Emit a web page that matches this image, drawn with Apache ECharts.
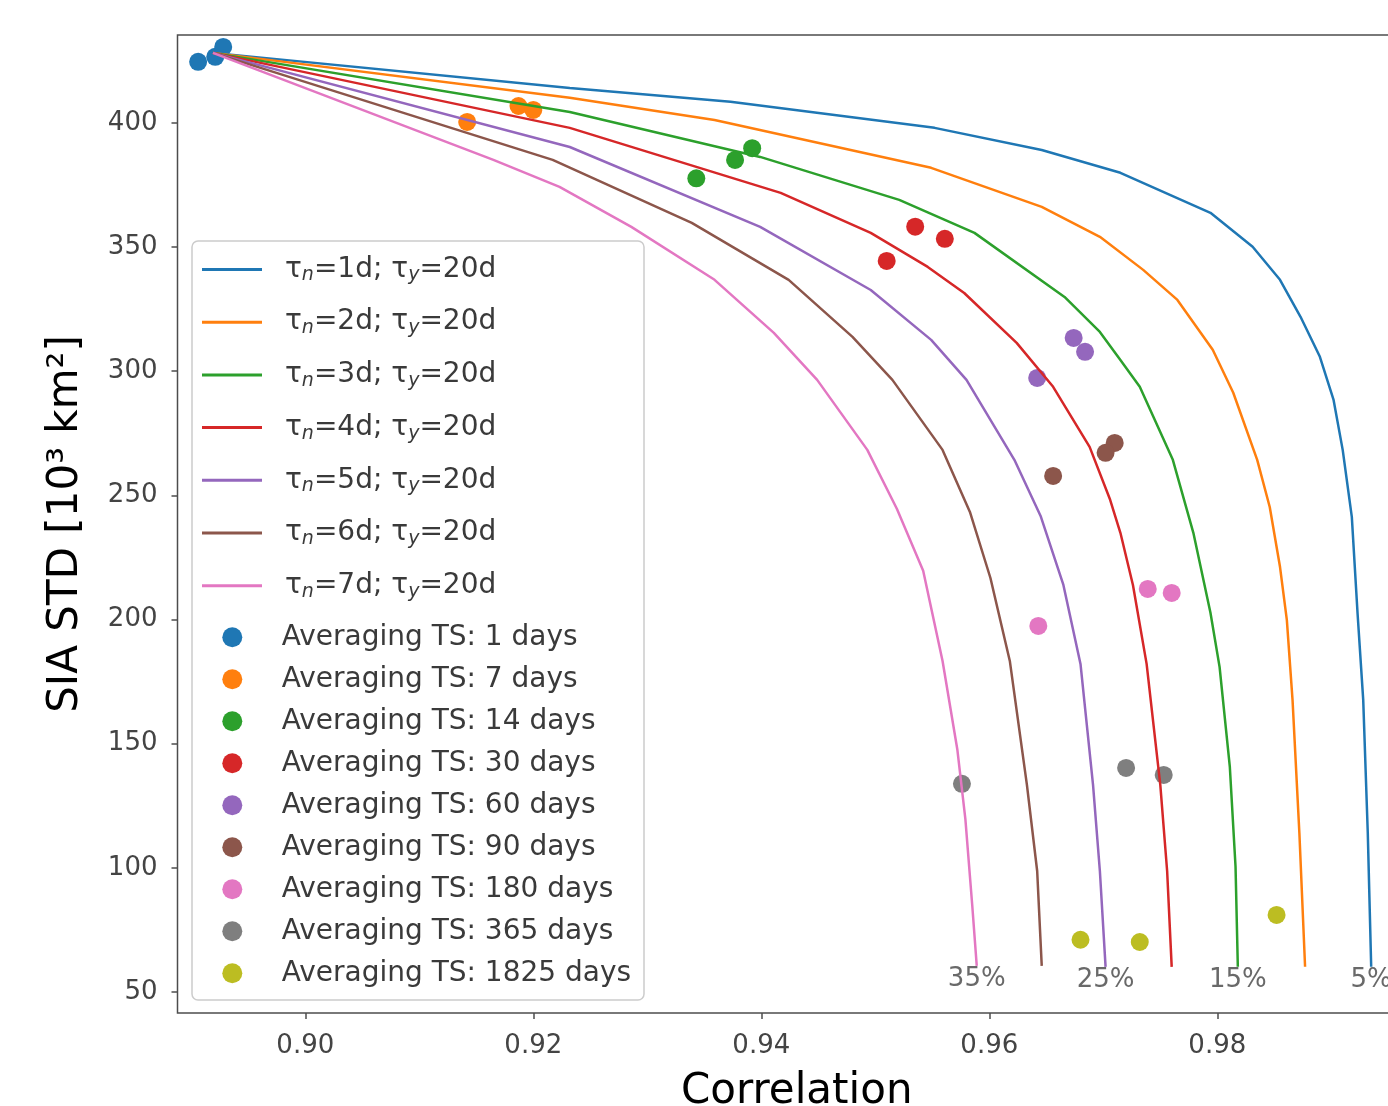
<!DOCTYPE html>
<html><head><meta charset="utf-8">
<script src="https://cdn.jsdelivr.net/npm/echarts@6/dist/echarts.min.js"></script>
<style>html,body{margin:0;padding:0;background:#fff}#c{width:1388px;height:1106px}</style>
</head><body><div id="c"></div>
<script>
// ---- data ----
const curveNames = ['τn=1d; τy=20d','τn=2d; τy=20d','τn=3d; τy=20d','τn=4d; τy=20d','τn=5d; τy=20d','τn=6d; τy=20d','τn=7d; τy=20d'];
const curve1d = [[0.8919,428.2],[0.9232,414.1],[0.9373,408.5],[0.9552,398.0],[0.9646,389.1],[0.9715,379.9],[0.9794,363.8],[0.9831,350.1],[0.9855,336.8],[0.9873,321.9],[0.9890,305.8],[0.9902,288.4],[0.9910,268.3],[0.9918,241.3],[0.9923,202.7],[0.9928,167.6],[0.9932,114.0],[0.9935,60.1]];
const curve2d = [[0.8919,428.2],[0.9232,410.1],[0.9359,401.2],[0.9549,381.9],[0.9646,366.2],[0.9697,354.1],[0.9735,340.8],[0.9765,328.7],[0.9796,308.6],[0.9814,291.3],[0.9835,264.3],[0.9846,245.3],[0.9855,221.2],[0.9861,199.8],[0.9866,167.6],[0.9872,114.0],[0.9877,60.1]];
const curve3d = [[0.8919,428.2],[0.9232,404.4],[0.9399,386.3],[0.9521,369.0],[0.9587,355.7],[0.9666,329.9],[0.9697,315.8],[0.9715,304.5],[0.9732,293.7],[0.9761,264.3],[0.9779,234.9],[0.9794,202.7],[0.9802,180.9],[0.9811,140.6],[0.9816,100.4],[0.9818,60.1]];
const curve4d = [[0.8919,428.2],[0.9232,398.0],[0.9417,371.8],[0.9496,355.7],[0.9546,342.0],[0.9578,331.5],[0.9624,311.4],[0.9656,293.7],[0.9688,269.5],[0.9706,248.2],[0.9715,234.9],[0.9726,213.9],[0.9738,182.1],[0.9750,133.4],[0.9756,98.7],[0.9760,60.1]];
const curve5d = [[0.8919,428.2],[0.9232,390.3],[0.9399,358.1],[0.9496,332.7],[0.9549,312.6],[0.9580,296.5],[0.9622,264.3],[0.9645,241.7],[0.9665,213.9],[0.9680,182.1],[0.9691,133.4],[0.9697,98.7],[0.9702,60.1]];
const curve6d = [[0.8919,428.2],[0.9217,385.1],[0.9339,359.7],[0.9424,336.8],[0.9480,313.8],[0.9515,296.5],[0.9559,268.3],[0.9583,243.3],[0.9601,216.7],[0.9618,183.3],[0.9633,133.4],[0.9642,98.7],[0.9646,60.5]];
const curve7d = [[0.8919,428.2],[0.9165,385.1],[0.9223,374.2],[0.9286,358.1],[0.9359,336.8],[0.9411,315.4],[0.9449,296.5],[0.9493,268.3],[0.9519,244.5],[0.9542,219.6],[0.9559,183.3],[0.9572,147.5],[0.9579,119.7],[0.9585,85.1],[0.9589,60.5]];
const curves = [curve1d,curve2d,curve3d,curve4d,curve5d,curve6d,curve7d];
const pctLabels = ['5%','','15%','','25%','','35%'];

const avgNames = ['Averaging TS: 1 days','Averaging TS: 7 days','Averaging TS: 14 days','Averaging TS: 30 days','Averaging TS: 60 days','Averaging TS: 90 days','Averaging TS: 180 days','Averaging TS: 365 days','Averaging TS: 1825 days'];
const avg1 = [[0.8906,424.6],[0.8921,426.6],[0.8928,430.6]];
const avg7 = [[0.9142,400.4],[0.9187,406.8],[0.9200,405.2]];
const avg14 = [[0.9343,377.7],[0.9377,385.1],[0.9392,389.8]];
const avg30 = [[0.9535,358.2],[0.9561,353.3],[0.9510,344.4]];
const avg60 = [[0.9674,313.4],[0.9684,307.8],[0.9642,297.3]];
const avg90 = [[0.9710,271.1],[0.9702,267.1],[0.9656,257.8]];
const avg180 = [[0.9739,212.3],[0.9760,210.7],[0.9643,197.4]];
const avg365 = [[0.9576,133.8],[0.9720,140.2],[0.9753,137.4]];
const avg1825 = [[0.9680,71.0],[0.9732,70.1],[0.9852,81.0]];
const avgs = [avg1,avg7,avg14,avg30,avg60,avg90,avg180,avg365,avg1825];

const xTicks = [0.90,0.92,0.94,0.96,0.98];
const yTicks = [50,100,150,200,250,300,350,400];
const xLabel = 'Correlation';
const yLabel = 'SIA STD [10³ km²]';

const lineColors = ['#1f77b4','#ff7f0e','#2ca02c','#d62728','#9467bd','#8c564b','#e377c2'];
const dotColors = ['#1f77b4','#ff7f0e','#2ca02c','#d62728','#9467bd','#8c564b','#e377c2','#7f7f7f','#bcbd22'];

// ---- chart ----
const FONT = 'DejaVu Sans';
const chart = echarts.init(document.getElementById('c'), null, {renderer:'canvas'});
const series = [];
curves.forEach((c,i)=>{
  series.push({name:curveNames[i], type:'line', data:c, symbol:'none', showSymbol:false, z:3,
    lineStyle:{color:lineColors[i], width:2.5}, itemStyle:{color:lineColors[i]}, animation:false, silent:true});
});
avgs.forEach((a,i)=>{
  series.push({name:avgNames[i], type:'scatter', data:a, symbol:'circle', symbolSize:18, z:2,
    itemStyle:{color:dotColors[i], opacity:1}, animation:false, silent:true});
});
series.push({name:'pct', type:'scatter', symbolSize:0, z:4, silent:true, animation:false,
  data: curves.map((c,i)=>({name:pctLabels[i], value:c[c.length-1]})).filter(d=>d.name),
  label:{show:true, position:'bottom', distance:0, formatter:'{b}', fontFamily:FONT, fontSize:26, color:'#444'}});

const richBase = {
  t:{fontFamily:FONT, fontSize:28, color:'#3a3a3a', lineHeight:34},
  s:{fontFamily:FONT, fontSize:19, fontStyle:'italic', color:'#3a3a3a', lineHeight:34, padding:[12,0,0,0]}
};

chart.setOption({
  backgroundColor:'#fff',
  animation:false,
  grid:{left:177.5, right:-28, top:35, bottom:93, outerBoundsMode:'none', containLabel:false, show:true, borderColor:'#4d4d4d', borderWidth:1.5, backgroundColor:'transparent'},
  xAxis:{type:'value', min:0.88879, max:0.99743,
    name:xLabel, nameLocation:'middle', nameGap:58, nameTextStyle:{fontFamily:FONT, fontSize:42, color:'#000'},
    axisLine:{show:false}, splitLine:{show:false},
    axisTick:{show:true, length:6, customValues:xTicks, lineStyle:{color:'#4d4d4d', width:1.5}},
    axisLabel:{show:true, customValues:xTicks, margin:20, fontFamily:FONT, fontSize:26, color:'#444', formatter:v=>v.toFixed(2)}},
  yAxis:{type:'value', min:41.5, max:435.4,
    name:yLabel, nameLocation:'middle', nameGap:90, nameRotate:90, nameTextStyle:{fontFamily:FONT, fontSize:42, color:'#000'},
    axisLine:{show:false}, splitLine:{show:false},
    axisTick:{show:true, length:6, customValues:yTicks, lineStyle:{color:'#4d4d4d', width:1.5}},
    axisLabel:{show:true, customValues:yTicks, margin:20, fontFamily:FONT, fontSize:26, color:'#444', formatter:v=>String(v)}},
  legend:[
    {data:curveNames.map(n=>({name:n, icon:'rect'})), orient:'vertical', left:202, top:254, itemWidth:60, itemHeight:3, itemGap:21.7, padding:0, z:10,
     selectedMode:false,
     textStyle:{fontFamily:FONT, fontSize:28, color:'#3a3a3a', padding:[0,0,0,18], rich:richBase},
     formatter:name=>{const m=name.match(/τn=(\S+); τy=(\S+)/); return '{t|τ}{s|n}{t|='+m[1]+'; τ}{s|y}{t|='+m[2]+'}';}},
    {data:avgNames.map(n=>({name:n, icon:'circle'})), orient:'vertical', left:222.3, top:620.3, itemWidth:20, itemHeight:20, itemGap:8, padding:0, z:10,
     selectedMode:false,
     textStyle:{fontFamily:FONT, fontSize:28, color:'#3a3a3a', lineHeight:34, padding:[0,0,0,34.4]}}
  ],
  graphic:{elements:[{type:'rect', shape:{x:192, y:241, width:452, height:759, r:6}, z:8,
    style:{fill:'rgba(255,255,255,0.85)', stroke:'#cccccc', lineWidth:1.5}}]},
  series:series
});
</script></body></html>
